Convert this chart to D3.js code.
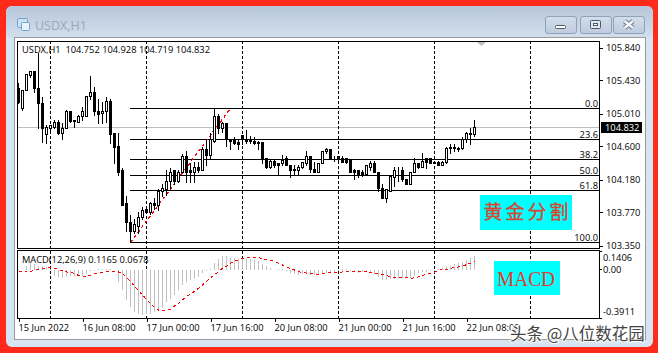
<!DOCTYPE html>
<html>
<head>
<meta charset="utf-8">
<script src="https://cdn.jsdelivr.net/npm/d3@7"></script>
<style>
  html, body { margin: 0; padding: 0; background: #ff2a1a; overflow: hidden; }
  text { font-family: "Open Sans", sans-serif; font-size: 9.3px; fill: #000; }
</style>
</head>
<body>
<svg id="chart"></svg>
<script>
const opens = [105.330,105.079,105.305,105.494,105.532,105.330,105.142,104.752,104.827,104.840,104.903,104.764,104.827,105.041,104.928,104.903,104.966,104.978,105.230,105.268,105.041,105.016,105.029,105.167,104.764,104.601,104.299,103.872,103.645,103.520,103.595,103.696,103.809,103.771,103.884,103.847,104.023,104.060,104.161,104.299,104.161,104.274,104.463,104.287,104.274,104.337,104.299,104.563,104.488,104.664,104.978,104.827,104.878,104.677,104.677,104.651,104.739,104.677,104.677,104.664,104.651,104.651,104.438,104.337,104.412,104.387,104.375,104.438,104.362,104.312,104.299,104.337,104.387,104.463,104.312,104.274,104.387,104.526,104.563,104.450,104.463,104.450,104.438,104.425,104.287,104.287,104.262,104.249,104.337,104.375,104.274,104.073,103.935,104.035,104.211,104.299,104.299,104.186,104.123,104.274,104.375,104.337,104.438,104.438,104.400,104.400,104.350,104.400,104.588,104.588,104.576,104.576,104.677,104.752,104.752];
const highs = [105.393,105.305,105.506,105.544,105.532,105.770,105.217,104.865,104.865,104.928,104.928,104.890,105.054,105.041,104.928,104.991,105.091,105.230,105.481,105.343,105.180,105.154,105.217,105.180,104.764,104.764,104.324,103.960,103.721,103.671,103.771,103.834,103.834,103.897,103.947,104.048,104.111,104.287,104.324,104.299,104.287,104.500,104.526,104.387,104.400,104.400,104.588,104.677,104.764,105.079,105.003,104.903,104.890,104.677,104.702,104.689,104.739,104.802,104.727,104.702,104.664,104.651,104.438,104.425,104.425,104.387,104.488,104.463,104.362,104.362,104.362,104.400,104.526,104.463,104.400,104.387,104.526,104.576,104.563,104.475,104.475,104.475,104.450,104.425,104.312,104.287,104.299,104.362,104.412,104.412,104.274,104.111,104.060,104.224,104.337,104.337,104.337,104.186,104.274,104.450,104.387,104.513,104.450,104.450,104.400,104.412,104.412,104.588,104.614,104.614,104.588,104.702,104.777,104.827,104.928];
const lows = [105.142,105.054,105.305,105.469,105.280,104.827,104.651,104.639,104.764,104.827,104.752,104.677,104.827,104.903,104.840,104.903,104.928,104.966,105.180,104.991,104.890,104.890,104.903,104.639,104.387,104.236,103.859,103.520,103.394,103.507,103.507,103.683,103.771,103.746,103.809,103.796,103.972,103.985,104.073,104.111,104.148,104.262,104.148,104.148,104.148,104.262,104.299,104.362,104.450,104.651,104.764,104.777,104.601,104.551,104.626,104.563,104.614,104.639,104.639,104.614,104.551,104.387,104.324,104.324,104.337,104.236,104.362,104.350,104.211,104.236,104.236,104.324,104.362,104.262,104.262,104.274,104.375,104.513,104.438,104.412,104.387,104.400,104.375,104.274,104.186,104.211,104.224,104.236,104.299,104.262,104.023,103.935,103.897,104.023,104.086,104.161,104.161,104.111,104.111,104.262,104.324,104.337,104.324,104.387,104.375,104.350,104.350,104.387,104.513,104.526,104.526,104.563,104.651,104.626,104.719];
const closes = [105.154,105.305,105.506,105.532,105.330,105.142,104.827,104.840,104.853,104.903,104.764,104.827,105.041,104.915,104.915,104.978,105.041,105.230,105.268,105.029,105.003,105.029,105.167,104.752,104.588,104.274,103.859,103.633,103.520,103.608,103.708,103.796,103.771,103.884,103.847,104.023,104.073,104.161,104.274,104.161,104.274,104.463,104.274,104.274,104.337,104.299,104.563,104.488,104.677,104.978,104.827,104.878,104.677,104.664,104.639,104.626,104.677,104.664,104.664,104.639,104.639,104.438,104.337,104.412,104.362,104.362,104.425,104.362,104.287,104.299,104.337,104.400,104.463,104.312,104.262,104.387,104.526,104.563,104.438,104.438,104.450,104.400,104.400,104.274,104.274,104.249,104.236,104.350,104.375,104.274,104.073,103.935,104.048,104.224,104.299,104.287,104.186,104.123,104.274,104.375,104.337,104.412,104.400,104.387,104.387,104.350,104.400,104.576,104.576,104.576,104.563,104.689,104.764,104.764,104.832];

const macdHist = [-0.006,0,0.029,0.057,0.052,0.037,0.029,0.023,0.009,-0.049,-0.063,-0.072,-0.063,-0.057,-0.052,-0.052,-0.049,-0.034,-0.006,-0.011,0.006,0.006,0.009,0.009,0,-0.101,-0.178,-0.256,-0.322,-0.365,-0.379,-0.391,-0.385,-0.379,-0.365,-0.351,-0.328,-0.279,-0.25,-0.221,-0.178,-0.135,-0.106,-0.092,-0.078,-0.063,-0.029,-0.011,0.009,0.06,0.095,0.115,0.115,0.103,0.103,0.095,0.103,0.095,0.095,0.086,0.075,0.052,0.029,0.017,0,0.003,0.003,-0.006,-0.029,-0.04,-0.046,-0.04,-0.04,-0.043,-0.043,-0.04,-0.04,-0.029,-0.02,-0.017,-0.006,0.003,0.003,-0.006,-0.02,-0.029,-0.02,-0.02,-0.02,-0.034,-0.063,-0.086,-0.092,-0.078,-0.078,-0.078,-0.072,-0.072,-0.069,-0.049,-0.029,-0.02,-0.02,-0.011,-0.011,0.009,0.017,0.029,0.037,0.052,0.057,0.066,0.086,0.101,0.1165];
const macdSignal = [-0.02,-0.02,-0.023,-0.02,-0.006,0,0.006,0.011,0.014,0.009,0,-0.014,-0.023,-0.029,-0.034,-0.055,-0.06,-0.06,-0.055,-0.037,-0.032,-0.029,-0.02,-0.02,-0.02,-0.023,-0.037,-0.069,-0.106,-0.144,-0.184,-0.221,-0.259,-0.299,-0.328,-0.351,-0.351,-0.351,-0.345,-0.316,-0.293,-0.264,-0.236,-0.213,-0.19,-0.164,-0.135,-0.106,-0.072,-0.049,-0.02,0.009,0.023,0.052,0.075,0.08,0.095,0.101,0.103,0.103,0.103,0.089,0.086,0.08,0.066,0.052,0.037,0.017,0.009,-0.006,-0.02,-0.029,-0.032,-0.034,-0.04,-0.043,-0.04,-0.034,-0.029,-0.026,-0.026,-0.023,-0.017,-0.017,-0.02,-0.02,-0.023,-0.023,-0.029,-0.029,-0.04,-0.046,-0.055,-0.063,-0.069,-0.072,-0.072,-0.072,-0.08,-0.072,-0.066,-0.055,-0.04,-0.034,-0.026,-0.011,0,0,0.009,0.014,0.02,0.029,0.04,0.053,0.0678];

const priceTicks = [105.84, 105.43, 105.01, 104.6, 104.18, 103.77, 103.35];
const macdTicks = [0.1406, 0, -0.3911];
const macdTickLabels = ['0.1406', '0.00', '-0.3911'];
const timeBars = [0, 16, 32, 48, 64, 80, 96, 112];
const timeLabels = ['15 Jun 2022', '16 Jun 08:00', '17 Jun 00:00', '17 Jun 16:00', '20 Jun 08:00', '21 Jun 00:00', '21 Jun 16:00', '22 Jun 08:00'];
const daySeparators = [8, 32, 56, 80, 104, 128];
const fibLabels = ['0.0', '23.6', '38.2', '50.0', '61.8', '100.0'];
const fibPrices = [105.079, 104.681, 104.435, 104.236, 104.038, 103.394];
const fibStartBar = 28;
const fibEndBar = 53;
const lastPrice = 104.832;

const w = 658;
const h = 353;
const plotLeft = 17;
const plotRight = 599;
const mainTop = 41;
const mainBottom = 248;
const macdTop = 250;
const macdBottom = 318;

const svg = d3.select('#chart')
  .attr('width', w)
  .attr('height', h)
  .style('display', 'block');

const defs = svg.append('defs');
const titleGrad = defs.append('linearGradient').attr('id', 'titleGrad').attr('x2', 0).attr('y2', 1);
titleGrad.append('stop').attr('offset', 0).attr('stop-color', '#b7c6da');
titleGrad.append('stop').attr('offset', 1).attr('stop-color', '#d2dfed');
const btnGrad = defs.append('linearGradient').attr('id', 'btnGrad').attr('x2', 0).attr('y2', 1);
btnGrad.append('stop').attr('offset', 0).attr('stop-color', '#d3deeb');
btnGrad.append('stop').attr('offset', 1).attr('stop-color', '#bdcbde');

// window chrome
svg.append('rect').attr('width', w).attr('height', h).attr('fill', '#ff2a1a');
svg.append('rect').attr('x', 6).attr('y', 6).attr('width', 647).attr('height', 341).attr('rx', 6).attr('fill', '#d7e4f1');
svg.append('rect').attr('x', 6).attr('y', 6).attr('width', 647).attr('height', 32).attr('rx', 6).attr('fill', 'url(#titleGrad)');
svg.append('rect').attr('x', 14.5).attr('y', 37.5).attr('width', 631).attr('height', 302).attr('fill', '#fff').attr('stroke', '#9a9a9a');

// title bar icon and text
const icon = svg.append('g').attr('fill', 'none').attr('stroke', '#6fa6d6');
icon.append('rect').attr('x', 17.5).attr('y', 18.5).attr('width', 10).attr('height', 9).attr('rx', 1).attr('fill', '#cfe0f0');
icon.append('rect').attr('x', 21.5).attr('y', 22.5).attr('width', 8).attr('height', 8).attr('rx', 1).attr('fill', '#eaf2fa');
svg.append('text').attr('x', 35).attr('y', 30).text('USDX,H1')
  .style('font-size', '12.5px').style('fill', '#9aa6b4');

svg.selectAll('.btn')
  .data([[545, 31], [580, 31], [613, 31]])
  .enter()
  .append('rect')
  .attr('class', 'btn')
  .attr('x', d => d[0] + 0.5)
  .attr('y', 16.5)
  .attr('width', d => d[1])
  .attr('height', 17)
  .attr('rx', 2.5)
  .attr('fill', 'url(#btnGrad)')
  .attr('stroke', '#8fa2b8');
svg.append('rect').attr('x', 555.5).attr('y', 25.5).attr('width', 10).attr('height', 3).attr('rx', 1).attr('fill', '#fff').attr('stroke', '#4a5868');
svg.append('rect').attr('x', 590.5).attr('y', 20.5).attr('width', 10).attr('height', 8).attr('rx', 1).attr('fill', '#dfe7f0').attr('stroke', '#4a5868');
svg.append('rect').attr('x', 593.5).attr('y', 23.5).attr('width', 4).attr('height', 2).attr('fill', '#fff').attr('stroke', '#4a5868');
svg.append('path').attr('d', 'M624.5,21 L633,28 M633,21 L624.5,28').attr('stroke', '#6d7a8a').attr('stroke-width', 4.5);
svg.append('path').attr('d', 'M624.5,21 L633,28 M633,21 L624.5,28').attr('stroke', '#f2f5f9').attr('stroke-width', 2.5);

// scales
const xScale = d3.scaleLinear().domain([0, 1]).range([18, 22]);
const yScale = d3.scaleLinear().domain([105.84, 103.35]).range([47.5, 245.5]);
const macdScale = d3.scaleLinear().domain([0.1406, -0.3911]).range([253, 314.7]);
const barX = i => Math.round(xScale(i)) + 0.5;
const barY = v => Math.round(yScale(v) - 0.5) + 0.5;
const macdY = v => Math.round(macdScale(v) - 0.5) + 0.5;
const bars = d3.range(opens.length);

const crisp = svg.append('g').attr('shape-rendering', 'crispEdges');

// last price line and separators
crisp.append('line')
  .attr('x1', plotLeft).attr('x2', plotRight)
  .attr('y1', barY(lastPrice)).attr('y2', barY(lastPrice))
  .attr('stroke', '#c0c0c0');

crisp.selectAll('.sep')
  .data(daySeparators)
  .enter()
  .append('line')
  .attr('class', 'sep')
  .attr('x1', d => barX(d)).attr('x2', d => barX(d))
  .attr('y1', mainTop).attr('y2', macdBottom)
  .attr('stroke', '#000')
  .attr('stroke-dasharray', '3,2');

// fibonacci levels
crisp.selectAll('.fib')
  .data(fibPrices)
  .enter()
  .append('line')
  .attr('class', 'fib')
  .attr('x1', barX(fibStartBar) - 0.5).attr('x2', plotRight)
  .attr('y1', d => barY(d)).attr('y2', d => barY(d))
  .attr('stroke', '#000');

crisp.append('line')
  .attr('x1', barX(fibStartBar)).attr('x2', barX(fibEndBar))
  .attr('y1', barY(fibPrices[5])).attr('y2', barY(fibPrices[0]))
  .attr('stroke', '#f00')
  .attr('stroke-width', 1.3)
  .attr('stroke-dasharray', '3,3');

// candles
crisp.selectAll('.wick')
  .data(bars)
  .enter()
  .append('line')
  .attr('class', 'wick')
  .attr('x1', barX).attr('x2', barX)
  .attr('y1', i => barY(highs[i]) - 0.5)
  .attr('y2', i => barY(lows[i]) + 0.5)
  .attr('stroke', '#000');

crisp.selectAll('.body')
  .data(bars)
  .enter()
  .append('rect')
  .attr('class', 'body')
  .attr('x', i => barX(i) - 1)
  .attr('y', i => barY(Math.max(opens[i], closes[i])))
  .attr('width', 2)
  .attr('height', i => barY(Math.min(opens[i], closes[i])) - barY(Math.max(opens[i], closes[i])))
  .attr('fill', i => closes[i] >= opens[i] ? '#fff' : '#000')
  .attr('stroke', '#000');

// macd pane
crisp.selectAll('.hist')
  .data(bars)
  .enter()
  .append('line')
  .attr('class', 'hist')
  .attr('x1', barX).attr('x2', barX)
  .attr('y1', macdY(0))
  .attr('y2', i => macdY(macdHist[i]))
  .attr('stroke', '#c0c0c0');

const signalLine = d3.line()
  .x(i => barX(i))
  .y(i => macdScale(macdSignal[i]));

crisp.append('path')
  .attr('d', signalLine(bars))
  .attr('fill', 'none')
  .attr('stroke', '#f00')
  .attr('stroke-dasharray', '3,3');

// pane frames
crisp.selectAll('.frame')
  .data([[mainTop, mainBottom], [macdTop, macdBottom]])
  .enter()
  .append('rect')
  .attr('class', 'frame')
  .attr('x', plotLeft + 0.5)
  .attr('y', d => d[0] + 0.5)
  .attr('width', plotRight - plotLeft)
  .attr('height', d => d[1] - d[0])
  .attr('fill', 'none')
  .attr('stroke', '#000');

// axes
const priceAxis = d3.axisRight(yScale)
  .tickValues(priceTicks)
  .tickSize(3)
  .tickPadding(3)
  .tickFormat(d3.format('.3f'));

const priceG = svg.append('g')
  .attr('transform', `translate(${plotRight + 1}, 0)`)
  .attr('shape-rendering', 'crispEdges')
  .call(priceAxis);
priceG.select('.domain').remove();

const macdAxis = d3.axisRight(macdScale)
  .tickValues(macdTicks)
  .tickSize(2)
  .tickPadding(1)
  .tickFormat((d, i) => macdTickLabels[i]);

const macdG = svg.append('g')
  .attr('transform', `translate(${plotRight + 1}, 0)`)
  .attr('shape-rendering', 'crispEdges')
  .call(macdAxis);
macdG.select('.domain').remove();
// end labels sit inside the pane, end ticks sit on the pane edges
macdG.selectAll('text').attr('y', (d, i) => [4.3, 0, -3][i]);
macdG.selectAll('line').attr('y1', (d, i) => [-2, 0, 3.3][i]).attr('y2', (d, i) => [-2, 0, 3.3][i]);

const timeAxis = d3.axisBottom(xScale)
  .tickValues(timeBars)
  .tickSize(3)
  .tickPadding(3)
  .tickFormat((d, i) => timeLabels[i]);

const timeG = svg.append('g')
  .attr('transform', `translate(0.5, ${macdBottom + 0.5})`)
  .attr('shape-rendering', 'crispEdges')
  .call(timeAxis);
timeG.select('.domain').remove();
timeG.selectAll('text').attr('text-anchor', 'start').attr('x', -0.5);

// texts inside the chart
svg.append('text').attr('x', 22).attr('y', 53).text('USDX,H1  104.752 104.928 104.719 104.832').attr('xml:space', 'preserve');
svg.append('text').attr('x', 22).attr('y', 263).text('MACD(12,26,9) 0.1165 0.0678');

svg.selectAll('.fibLabel')
  .data(fibPrices)
  .enter()
  .append('text')
  .attr('class', 'fibLabel')
  .attr('x', 598)
  .attr('y', d => barY(d) - 2)
  .attr('text-anchor', 'end')
  .text((d, i) => fibLabels[i]);

// grey shift marker
svg.append('path').attr('d', 'M477,42 L486,42 L481.5,46 Z').attr('fill', '#bdbdbd');

// last price tag
svg.append('rect').attr('x', 601).attr('y', 122).attr('width', 41).attr('height', 11).attr('fill', '#000');
svg.append('text').attr('x', 605).attr('y', 131).text(d3.format('.3f')(lastPrice)).style('fill', '#fff');

// annotation boxes
svg.append('rect').attr('x', 480).attr('y', 195).attr('width', 92).attr('height', 35).attr('fill', '#00ffff');
svg.append('text').attr('x', 527.5).attr('y', 219).attr('text-anchor', 'middle').text('黄金分割')
  .style('font-family', '"Noto Sans CJK SC"').style('font-size', '19px').style('letter-spacing', '3px')
  .style('fill', '#d8452f').style('stroke', '#d8452f').style('stroke-width', 0.3);
svg.append('rect').attr('x', 494).attr('y', 261).attr('width', 66).attr('height', 34).attr('fill', '#00ffff');
svg.append('text').attr('x', 497).attr('y', 286).attr('textLength', 58).attr('lengthAdjust', 'spacingAndGlyphs').text('MACD')
  .style('font-family', '"Liberation Serif"').style('font-size', '22px').style('fill', '#e53b2a');

// watermark
svg.append('text').attr('x', 510).attr('y', 340).text('头条 @八位数花园')
  .style('font-family', '"Noto Sans CJK SC"').style('font-size', '16.5px').style('fill', '#444')
  .style('stroke', '#fff').style('stroke-width', 2).style('paint-order', 'stroke');
</script>
</body>
</html>
